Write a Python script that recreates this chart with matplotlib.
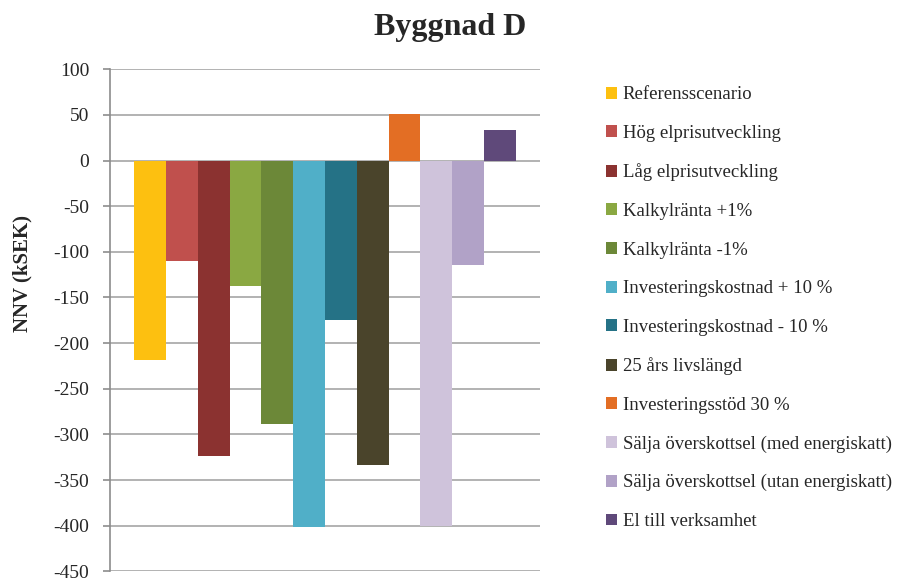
import matplotlib.pyplot as plt

scenarios = ["Referensscenario", "Hög elprisutveckling", "Låg elprisutveckling",
             "Kalkylränta +1%", "Kalkylränta -1%", "Investeringskostnad + 10 %",
             "Investeringskostnad - 10 %", "25 års livslängd", "Investeringsstöd 30 %",
             "Sälja överskottsel (med energiskatt)", "Sälja överskottsel (utan energiskatt)",
             "El till verksamhet"]
nnv = [-219, -110, -324, -137, -289, -402, -175, -333, 51, -400, -114, 34]
colors = ["#FDC010", "#C0504D", "#8B3230", "#8AA842", "#6C8838", "#50AFC8",
          "#257286", "#4A442B", "#E36E24", "#CFC3DB", "#B1A2C7", "#5F497A"]
yticks = list(range(-450, 101, 50))

plt.rcParams['font.family'] = ['Liberation Serif', 'DejaVu Serif']
text_col = "#262626"

fig = plt.figure(figsize=(9.02, 5.79), dpi=100)
ax = fig.add_axes([110 / 902, 1 - 571.3 / 579, 430 / 902, 502 / 579])

bars = []
for i, (lab, v, c) in enumerate(zip(scenarios, nnv, colors)):
    b = ax.bar(i, v, width=1.0, color=c, label=lab, zorder=3)
    bars.append(b)

ax.set_xlim(-1.255, 12.255)
ax.set_ylim(-450, 100)
ax.set_yticks(yticks)
ax.set_yticklabels([str(t) for t in yticks], fontsize=14, color=text_col)
ax.set_xticks([])
ax.yaxis.grid(True, color="#a6a6a6", linewidth=1.2, zorder=0)
for s in ["top", "right", "bottom"]:
    ax.spines[s].set_visible(False)
ax.spines["left"].set_color("#8c8c8c")
ax.spines["left"].set_linewidth(1.2)
ax.tick_params(axis="y", direction="out", length=5, color="#8c8c8c", width=1.2, pad=10)

fig.text(22 / 902, 1 - 274 / 579, "NNV (kSEK)", fontsize=15, fontweight="bold",
         rotation=90, ha="center", va="center", color=text_col)
fig.text(450 / 902, 1 - 27 / 579, "Byggnad D", fontsize=23, fontweight="bold",
         ha="center", va="center", color=text_col)

fig.legend(handles=bars, labels=scenarios, loc="upper left",
           bbox_to_anchor=(606 / 902, 1 - 86.5 / 579), frameon=False,
           fontsize=13.5, handlelength=0.6, handleheight=0.6, handletextpad=0.3,
           labelspacing=1.15, borderaxespad=0, borderpad=0, labelcolor=text_col)

fig.savefig("out.png", dpi=100)
